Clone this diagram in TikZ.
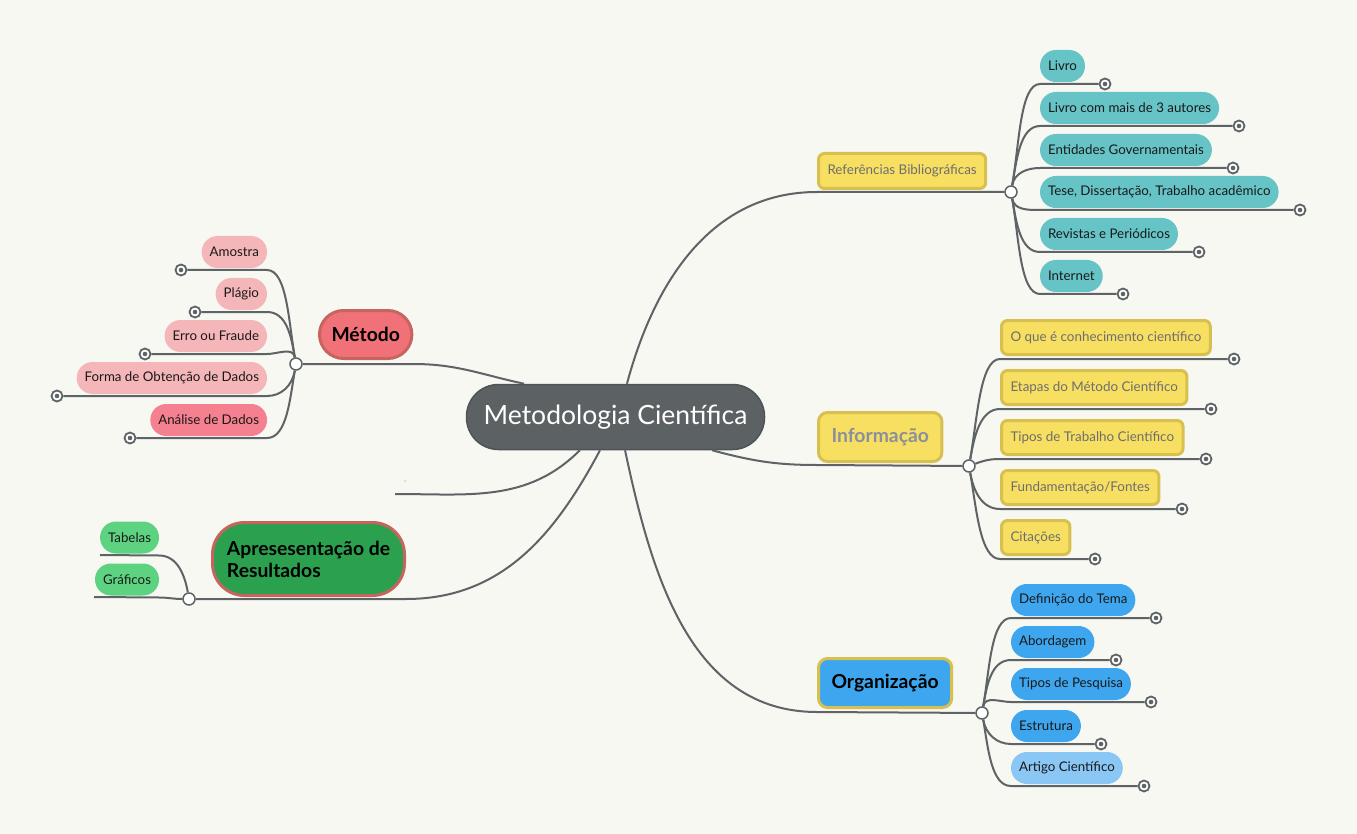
\documentclass[tikz,border=0pt]{standalone}
\usepackage{fontspec}
\setmainfont{Lato}
\usetikzlibrary{positioning}

\definecolor{bgcol}{HTML}{F8F8F3}
\definecolor{linecol}{HTML}{5E6366}
\definecolor{rootfill}{HTML}{5C6164}
\definecolor{rootline}{HTML}{4E5356}
\definecolor{redfill}{HTML}{F07178}
\definecolor{redline}{HTML}{C6655F}
\definecolor{pinkfill}{HTML}{F5B6B9}
\definecolor{pinkdark}{HTML}{F5808F}
\definecolor{greenfill}{HTML}{2BA04F}
\definecolor{greenlight}{HTML}{5DD382}
\definecolor{yellowfill}{HTML}{F7DF62}
\definecolor{goldline}{HTML}{D8C050}
\definecolor{greytext}{HTML}{6E6E6E}
\definecolor{infotext}{HTML}{8A8F9C}
\definecolor{tealfill}{HTML}{66C4C7}
\definecolor{bluefill}{HTML}{3EA6EF}
\definecolor{bluelight}{HTML}{8BC7F5}

\tikzset{
  link/.style={draw=linecol, line width=2pt},
  hub/.style={circle, draw=linecol, fill=white, line width=1.5pt, minimum size=12pt, inner sep=0pt},
  fold/.style={circle, draw=linecol, fill=white, line width=1.8pt, minimum size=11pt, inner sep=0pt,
    path picture={\fill[linecol] (path picture bounding box.center) circle (2.3pt);}},
  pill/.style={rounded corners=15.9pt, minimum height=32pt, inner xsep=8pt, inner ysep=0pt, outer sep=0pt,
    text=black!90, font=\fontsize{13.3}{15}\selectfont},
  ybox/.style={rounded corners=6pt, draw=goldline, fill=yellowfill, line width=3pt, minimum height=34pt,
    inner xsep=9pt, inner ysep=0pt, text=greytext, font=\fontsize{13.4}{15}\selectfont},
  topic/.style={line width=3pt, inner xsep=13pt, inner ysep=0pt, font=\fontsize{19.3}{22}\bfseries},
  kidup/.style={out=80, in=180, in max distance=20pt},
  kiddown/.style={out=-80, in=180, in max distance=20pt},
  leftup/.style={out=100, in=0, in max distance=20pt},
  leftdown/.style={out=-100, in=0, in max distance=20pt},
}

\begin{document}
\begin{tikzpicture}[x=1pt, y=-1pt]

    \fill[bgcol] (0,0) rectangle (1357,834);
    \useasboundingbox (0,0) rectangle (1357,834);

    % the root and the main topics
    \node[fill=rootfill, draw=rootline, line width=1.5pt, rounded corners=32pt, minimum width=298pt,
      minimum height=65pt, text=white, font=\fontsize{26.5}{30}\selectfont] (central) at (615.5,417) {Metodologia Científica};
    \node[topic, fill=redfill, draw=redline, rounded corners=24pt, minimum height=48pt, inner xsep=12pt,
      anchor=west] (metodo) at (318,334.5) {Método};
    \node[topic, fill=greenfill, draw=redline, rounded corners=32pt, minimum height=73pt, minimum width=192pt,
      inner xsep=11pt, align=left, anchor=west] (apres) at (211,559) {Apresesentação de\\Resultados};
    \node[ybox, anchor=west, minimum height=35pt] (refs) at (817,171) {Referências Bibliográficas};
    \node[topic, fill=yellowfill, draw=goldline, rounded corners=9pt, minimum height=49pt, text=infotext,
      anchor=west] (info) at (817,437) {Informação};
    \node[topic, fill=bluefill, draw=goldline, rounded corners=9pt, minimum height=49pt, text=black,
      anchor=west] (orga) at (817,683) {Organização};

    % these are the hubs
    \node[hub] (mhub) at (296,364) {};
    \node[hub] (ahub) at (189,599) {};
    \node[hub] (rhub) at (1011,192) {};
    \node[hub] (ihub) at (969,466) {};
    \node[hub] (ohub) at (982,713) {};

    \coordinate (blank) at (395,494);
    \node[circle, fill=black!20, inner sep=0pt, minimum size=2pt] (speck) at (405,481) {};

    \draw[link] (central.160) to[out=168,in=0] ([yshift=-4pt]metodo.south east) -- (mhub);
    \draw[link] (central.-115) to[out=-118,in=0] ([yshift=-2pt]apres.south east) -- (ahub);
    \draw[link] (central.-137) to[out=-135,in=0] (blank);
    \draw[link] (central.71) to[out=75,in=180] ([yshift=-2pt]refs.south west) -- (rhub);
    \draw[link] (central.-19) to[out=-15,in=180] ([yshift=-2pt]info.south west) -- (ihub);
    \draw[link] (central.-74) to[out=-78,in=180] ([yshift=-3pt]orga.south west) -- (ohub);

    % Metodo
    \node[pill, fill=pinkfill, anchor=east] (m1) at (267,252) {Amostra};
    \node[pill, fill=pinkfill, anchor=east] (m2) at (267,294) {Plágio};
    \node[pill, fill=pinkfill, anchor=east] (m3) at (267,336) {Erro ou Fraude};
    \node[pill, fill=pinkfill, anchor=east] (m4) at (267,378) {Forma de Obtenção de Dados};
    \node[pill, fill=pinkdark, anchor=east] (m5) at (267,420) {Análise de Dados};
    \node[fold] (m1f) at (181,270) {};
    \node[fold] (m2f) at (195,312) {};
    \node[fold] (m3f) at (145,354) {};
    \node[fold] (m4f) at (57,396) {};
    \node[fold] (m5f) at (130,438) {};
    \draw[link] (mhub) to[leftup] ([yshift=-2pt]m1.south east) -- (m1f);
    \draw[link] (mhub) to[leftup] ([yshift=-2pt]m2.south east) -- (m2f);
    \draw[link] (mhub) to[leftup] ([yshift=-2pt]m3.south east) -- (m3f);
    \draw[link] (mhub) to[leftdown] ([yshift=-2pt]m4.south east) -- (m4f);
    \draw[link] (mhub) to[leftdown] ([yshift=-2pt]m5.south east) -- (m5f);

    % Apresentacao
    \node[pill, fill=greenlight, anchor=east] (a1) at (159,537.5) {Tabelas};
    \node[pill, fill=greenlight, anchor=east] (a2) at (159,579.5) {Gráficos};
    \coordinate (a1end) at (100,555);
    \coordinate (a2end) at (94,597);
    \draw[link] (ahub) to[out=100,in=0,in max distance=18pt] ([yshift=-2pt]a1.south east) -- (a1end);
    \draw[link] (ahub) to[out=180,in=0] ([yshift=-2pt]a2.south east) -- (a2end);

    % Referencias
    \node[pill, fill=tealfill, anchor=west] (r1) at (1040,66) {Livro};
    \node[pill, fill=tealfill, anchor=west] (r2) at (1040,108) {Livro com mais de 3 autores};
    \node[pill, fill=tealfill, anchor=west] (r3) at (1040,150) {Entidades Governamentais};
    \node[pill, fill=tealfill, anchor=west] (r4) at (1040,192) {Tese, Dissertação, Trabalho acadêmico};
    \node[pill, fill=tealfill, anchor=west] (r5) at (1040,234) {Revistas e Periódicos};
    \node[pill, fill=tealfill, anchor=west] (r6) at (1040,276) {Internet};
    \node[fold] (r1f) at (1105,84) {};
    \node[fold] (r2f) at (1239,126) {};
    \node[fold] (r3f) at (1233,168) {};
    \node[fold] (r4f) at (1300,210) {};
    \node[fold] (r5f) at (1199,252) {};
    \node[fold] (r6f) at (1123,294) {};
    \draw[link] (rhub) to[kidup] ([yshift=-2pt]r1.south west) -- (r1f);
    \draw[link] (rhub) to[kidup] ([yshift=-2pt]r2.south west) -- (r2f);
    \draw[link] (rhub) to[kidup] ([yshift=-2pt]r3.south west) -- (r3f);
    \draw[link] (rhub) to[kiddown] ([yshift=-2pt]r4.south west) -- (r4f);
    \draw[link] (rhub) to[kiddown] ([yshift=-2pt]r5.south west) -- (r5f);
    \draw[link] (rhub) to[kiddown] ([yshift=-2pt]r6.south west) -- (r6f);

    % Informacao
    \node[ybox, anchor=west] (i1) at (1000,337.5) {O que é conhecimento científico};
    \node[ybox, anchor=west] (i2) at (1000,387.5) {Etapas do Método Científico};
    \node[ybox, anchor=west] (i3) at (1000,437.5) {Tipos de Trabalho Científico};
    \node[ybox, anchor=west] (i4) at (1000,487.5) {Fundamentação/Fontes};
    \node[ybox, anchor=west] (i5) at (1000,537.5) {Citações};
    \node[fold] (i1f) at (1234,359) {};
    \node[fold] (i2f) at (1211,409) {};
    \node[fold] (i3f) at (1206,459) {};
    \node[fold] (i4f) at (1182,509) {};
    \node[fold] (i5f) at (1095,559) {};
    \draw[link] (ihub) to[kidup] ([yshift=-3pt]i1.south west) -- (i1f);
    \draw[link] (ihub) to[kidup] ([yshift=-3pt]i2.south west) -- (i2f);
    \draw[link] (ihub) to[out=20,in=180] ([yshift=-3pt]i3.south west) -- (i3f);
    \draw[link] (ihub) to[kiddown] ([yshift=-3pt]i4.south west) -- (i4f);
    \draw[link] (ihub) to[kiddown] ([yshift=-3pt]i5.south west) -- (i5f);

    % Organizacao
    \node[pill, fill=bluefill, anchor=west] (o1) at (1011,600) {Definição do Tema};
    \node[pill, fill=bluefill, anchor=west] (o2) at (1011,642) {Abordagem};
    \node[pill, fill=bluefill, anchor=west] (o3) at (1011,684) {Tipos de Pesquisa};
    \node[pill, fill=bluefill, anchor=west] (o4) at (1011,726) {Estrutura};
    \node[pill, fill=bluelight, anchor=west] (o5) at (1011,768) {Artigo Científico};
    \node[fold] (o1f) at (1156,618) {};
    \node[fold] (o2f) at (1116,660) {};
    \node[fold] (o3f) at (1151,702) {};
    \node[fold] (o4f) at (1101,744) {};
    \node[fold] (o5f) at (1144,786) {};
    \draw[link] (ohub) to[kidup] ([yshift=-2pt]o1.south west) -- (o1f);
    \draw[link] (ohub) to[kidup] ([yshift=-2pt]o2.south west) -- (o2f);
    \draw[link] (ohub) to[kidup] ([yshift=-2pt]o3.south west) -- (o3f);
    \draw[link] (ohub) to[kiddown] ([yshift=-2pt]o4.south west) -- (o4f);
    \draw[link] (ohub) to[kiddown] ([yshift=-2pt]o5.south west) -- (o5f);

\end{tikzpicture}
\end{document}
